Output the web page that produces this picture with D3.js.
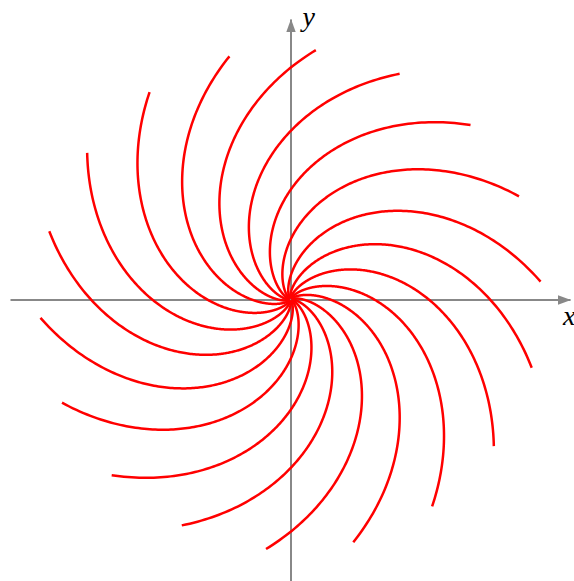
<!DOCTYPE html>
<html lang="en">
<head>
<meta charset="utf-8">
<script src="https://cdn.jsdelivr.net/npm/d3@7"></script>
<style>
html, body {
    margin: 0;
    padding: 0;
    background: #fff;
}
.axis path {
    stroke: #888;
    stroke-width: 2;
}
.axis-arrow {
    fill: #888;
}
.axis-label {
    font-family: "Liberation Serif", "DejaVu Serif", serif;
    font-style: italic;
    font-size: 28px;
    fill: #000;
}
.trajectory {
    fill: none;
    stroke: #ff0000;
    stroke-width: 2.5;
}
</style>
</head>
<body>
<div id="chart"></div>
<script>
var width = 574,
    height = 581;

// where each trajectory starts, in degrees, on a circle round the origin
var startAngles = [4.1, 24.3, 44.1, 64.2, 84.2, 104.1, 124.2, 144.2, 164.2,
                   184.2, 204.3, 224.5, 244.3, 264.4, 284.5, 304.4, 324.2, 344.2];
var startRadius = 2.507;

// the vector field: r' = -decay*r, theta' = twistBase + twistSlope*r
var decay = 1,
    twistBase = 0.2,
    twistSlope = 0.45;

var xDomain = [-2.805, 2.795],
    yDomain = [-2.82, 2.805];

var x = d3.scaleLinear().domain(xDomain).range([10, 570]);
var y = d3.scaleLinear().domain(yDomain).range([581.5, 19]);

function field(p) {
    var r = Math.hypot(p[0], p[1]),
        w = twistBase + twistSlope * r;
    return [-decay * p[0] - w * p[1], -decay * p[1] + w * p[0]];
}

// rk4 from the start point in to the origin
function trajectory(deg) {
    var a = deg * Math.PI / 180,
        p = [startRadius * Math.cos(a), startRadius * Math.sin(a)],
        pts = [p.slice()],
        dt = 0.01;
    while (Math.hypot(p[0], p[1]) > 0.01 && pts.length < 2000) {
        var k1 = field(p),
            k2 = field([p[0] + dt / 2 * k1[0], p[1] + dt / 2 * k1[1]]),
            k3 = field([p[0] + dt / 2 * k2[0], p[1] + dt / 2 * k2[1]]),
            k4 = field([p[0] + dt * k3[0], p[1] + dt * k3[1]]);
        p = [p[0] + dt / 6 * (k1[0] + 2 * k2[0] + 2 * k3[0] + k4[0]),
             p[1] + dt / 6 * (k1[1] + 2 * k2[1] + 2 * k3[1] + k4[1])];
        pts.push(p.slice());
    }
    return pts;
}

var svg = d3.select("#chart")
    .append("svg")
    .attr("width", width)
    .attr("height", height);

// axes, no ticks
svg.append("g")
    .attr("class", "axis")
    .attr("transform", "translate(0," + y(0) + ")")
    .call(d3.axisBottom(x).tickValues([]).tickSizeOuter(0));

svg.append("g")
    .attr("class", "axis")
    .attr("transform", "translate(" + x(0) + ",0)")
    .call(d3.axisLeft(y).tickValues([]).tickSizeOuter(0));

var ax = x.range()[1] + 1, ay = y(0) + 0.5;
svg.append("path")
    .attr("class", "axis-arrow")
    .attr("d", "M" + ax + "," + ay + "L" + (ax - 13) + "," + (ay - 4.7) +
               "L" + (ax - 13) + "," + (ay + 4.7) + "Z");

var bx = x(0) + 0.5, by = y.range()[1];
svg.append("path")
    .attr("class", "axis-arrow")
    .attr("d", "M" + bx + "," + by + "L" + (bx - 4.7) + "," + (by + 13) +
               "L" + (bx + 4.7) + "," + (by + 13) + "Z");

svg.append("text")
    .attr("class", "axis-label")
    .attr("x", x(0) + 12)
    .attr("y", 26)
    .text("y");

svg.append("text")
    .attr("class", "axis-label")
    .attr("x", 563)
    .attr("y", y(0) + 25)
    .text("x");

var line = d3.line()
    .x(function (d) { return x(d[0]); })
    .y(function (d) { return y(d[1]); });

svg.append("g")
    .selectAll("path")
    .data(startAngles)
    .enter()
    .append("path")
    .attr("class", "trajectory")
    .attr("d", function (d) { return line(trajectory(d)); });
</script>
</body>
</html>
